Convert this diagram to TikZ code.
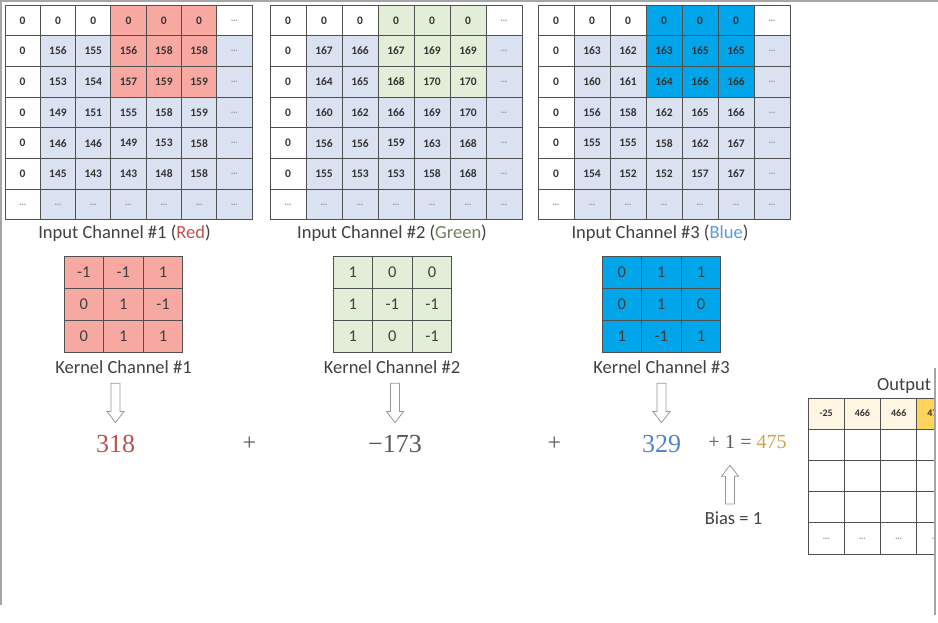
\documentclass[tikz,border=0pt]{standalone}
\usepackage{fontspec}
\setmainfont{Carlito}
\newfontfamily\numfont{Liberation Serif}
\usetikzlibrary{positioning,calc}

\definecolor{cellblue}{HTML}{DAE1F0}
\definecolor{hlred}{HTML}{F7A8A1}
\definecolor{hlgreen}{HTML}{E2EED8}
\definecolor{hlblue}{HTML}{00A5EA}
\definecolor{gridgray}{HTML}{505050}
\definecolor{textgray}{HTML}{404040}
\definecolor{numred}{HTML}{BF5050}
\definecolor{numgray}{HTML}{595959}
\definecolor{numblue}{HTML}{4F86C6}
\definecolor{numgold}{HTML}{C9A748}
\definecolor{wordred}{HTML}{C0504D}
\definecolor{wordgreen}{HTML}{6F7F5F}
\definecolor{wordblue}{HTML}{5B9BD5}
\definecolor{outcream}{HTML}{FFF6E3}
\definecolor{outgold}{HTML}{FFD45C}

\newcommand{\dotcell}{{\color{gray!75}\fontsize{10}{10}\selectfont\ldots}}

% input channel: name, left x, cell width, highlight colour, rows
\newcommand{\inputgrid}[5]{%
  \fill[cellblue] (#2,5) rectangle ++({7*#3},{7*30.7});
  \fill[white] (#2,5) rectangle ++({7*#3},30.7);
  \fill[white] (#2,5) rectangle ++(#3,{7*30.7});
  \fill[#4] ({#2+3*#3},5) rectangle ++({3*#3},{3*30.7});
  \foreach \vals [count=\r] in {#5} {
    \foreach \v [count=\c] in \vals
      \node[cell, minimum width=#3pt] (#1-\r-\c) at ({#2+(\c-0.5)*#3},{5+(\r-0.5)*30.7}) {\v};
  }%
}

% kernel channel: name, left x, colour, rows
\newcommand{\kernelgrid}[4]{%
  \foreach \vals [count=\r] in {#4} {
    \foreach \v [count=\c] in \vals
      \node[kcell, fill=#3] (#1-\r-\c) at ({#2+(\c-0.5)*39.6},{256+(\r-0.5)*32}) {\v};
  }%
}

% hollow block arrow, tip at the second point
\newcommand{\hollowarrow}[2]{%
  \draw[blockarrow] let \p1=(#1), \p2=(#2), \n1={sign(\y2-\y1)} in
    ({\x2-4.5pt},\y1) -- ({\x2-4.5pt},{\y2-(\n1)*11pt}) -- ({\x2-8.5pt},{\y2-(\n1)*11pt})
    -- (\x2,\y2) -- ({\x2+8.5pt},{\y2-(\n1)*11pt}) -- ({\x2+4.5pt},{\y2-(\n1)*11pt})
    -- ({\x2+4.5pt},\y1) -- cycle;
}

\begin{document}
\begin{tikzpicture}[x=1pt,y=-1pt,
  cell/.style={draw=gridgray, line width=0.9pt, minimum height=30.7pt, inner sep=0pt,
    text=black!80, font=\bfseries\fontsize{11.5}{12}\selectfont},
  kcell/.style={draw=gridgray, line width=0.9pt, minimum width=39.6pt, minimum height=32pt,
    inner sep=0pt, text=textgray, font=\fontsize{16.5}{17}\selectfont},
  ocell/.style={draw=gridgray, line width=0.9pt, minimum width=36.3pt, minimum height=31.2pt,
    inner sep=0pt, text=black!80, font=\bfseries\fontsize{10}{10}\selectfont},
  chlabel/.style={anchor=base, inner sep=0pt, text=textgray, font=\fontsize{18.5}{20}\selectfont},
  bignum/.style={anchor=base, inner sep=0pt, font=\numfont\fontsize{26}{28}\selectfont},
  opsign/.style={anchor=base, inner sep=0pt, text=numgray, font=\numfont\fontsize{24}{24}\selectfont},
  smallnum/.style={inner sep=0pt, text=numgray, font=\numfont\fontsize{20}{22}\selectfont},
  blockarrow/.style={draw=gray!80, fill=white, line width=0.8pt, line join=miter},
  frame/.style={draw=gray!70, line width=1.5pt}]
  \useasboundingbox (0,0) rectangle (938,622);

  % Input channels
  \inputgrid{a}{5}{35.3}{hlred}{{0,0,0,0,0,0,\dotcell},{0,156,155,156,158,158,\dotcell},
    {0,153,154,157,159,159,\dotcell},{0,149,151,155,158,159,\dotcell},
    {0,146,146,149,153,158,\dotcell},{0,145,143,143,148,158,\dotcell},
    {\dotcell,\dotcell,\dotcell,\dotcell,\dotcell,\dotcell,\dotcell}}
  \inputgrid{b}{270}{36}{hlgreen}{{0,0,0,0,0,0,\dotcell},{0,167,166,167,169,169,\dotcell},
    {0,164,165,168,170,170,\dotcell},{0,160,162,166,169,170,\dotcell},
    {0,156,156,159,163,168,\dotcell},{0,155,153,153,158,168,\dotcell},
    {\dotcell,\dotcell,\dotcell,\dotcell,\dotcell,\dotcell,\dotcell}}
  \inputgrid{c}{538}{36}{hlblue}{{0,0,0,0,0,0,\dotcell},{0,163,162,163,165,165,\dotcell},
    {0,160,161,164,166,166,\dotcell},{0,156,158,162,165,166,\dotcell},
    {0,155,155,158,162,167,\dotcell},{0,154,152,152,157,167,\dotcell},
    {\dotcell,\dotcell,\dotcell,\dotcell,\dotcell,\dotcell,\dotcell}}

  \node[chlabel] (laba) at (124.5,238) {Input Channel \#1 ({\color{wordred}Red})};
  \node[chlabel] (labb) at (392,238) {Input Channel \#2 ({\color{wordgreen}Green})};
  \node[chlabel] (labc) at (660,238) {Input Channel \#3 ({\color{wordblue}Blue})};

  % Kernels
  \kernelgrid{ka}{64}{hlred}{{-1,-1,1},{0,1,-1},{0,1,1}}
  \kernelgrid{kb}{333}{hlgreen}{{1,0,0},{1,-1,-1},{1,0,-1}}
  \kernelgrid{kc}{602}{hlblue}{{0,1,1},{0,1,0},{1,-1,1}}

  \node[chlabel] (klab1) at (123.5,373) {Kernel Channel \#1};
  \node[chlabel] (klab2) at (392,373) {Kernel Channel \#2};
  \node[chlabel] (klab3) at (661.5,373) {Kernel Channel \#3};

  % Sums
  \node[bignum, text=numred] (n1) at (115.5,452) {318};
  \node[opsign] (p1) at (249.5,450) {+};
  \node[bignum, text=numgray] (n2) at (395,452) {−173};
  \node[opsign] (p2) at (554.5,450) {+};
  \node[bignum, text=numblue] (n3) at (661.5,452) {329};
  \node[smallnum, anchor=base] (bone) at (730,448) {1};
  \node[smallnum, base left=5pt of bone] (bplus) {+};
  \node[smallnum, base right=5pt of bone] (total) {= {\color{numgold}475}};
  \node[chlabel] (bias) at (733.5,524) {Bias = 1};

  \hollowarrow{$(klab1.south)+(0,10)$}{$(n1.north)+(0,-12)$}
  \hollowarrow{$(klab2.south)+(0,10)$}{$(n2.north)+(0,-12)$}
  \hollowarrow{$(klab3.south)+(0,10)$}{$(n3.north)+(0,-12)$}
  \hollowarrow{$(bias.north)+(0,-7)$}{$(bone.south)+(0,17)$}

  % Output (cut at the frame)
  \begin{scope}
    \clip (0,0) rectangle (934.5,622);
    \node[chlabel, anchor=base west] (outlab) at (877,390) {Output};
    \fill[outcream] (808,398) rectangle ++({4*36.3},31.2);
    \fill[outgold] ({808+3*36.3},398) rectangle ++(36.3,31.2);
    \foreach \v [count=\c] in {-25,466,466,475}
      \node[ocell] (o-1-\c) at ({808+(\c-0.5)*36.3},413.6) {\v};
    \foreach \r in {2,...,5}
      \foreach \c in {1,...,4}
        \node[ocell] (o-\r-\c) at ({808+(\c-0.5)*36.3},{398+(\r-0.5)*31.2}) {\ifnum\r=5 \dotcell\fi};
  \end{scope}

  % Frame
  \draw[frame] (1,0) -- (1,605);
  \draw[frame] (0,1) -- (938,1);
  \draw[frame] (935,368) -- (935,615);
\end{tikzpicture}
\end{document}
